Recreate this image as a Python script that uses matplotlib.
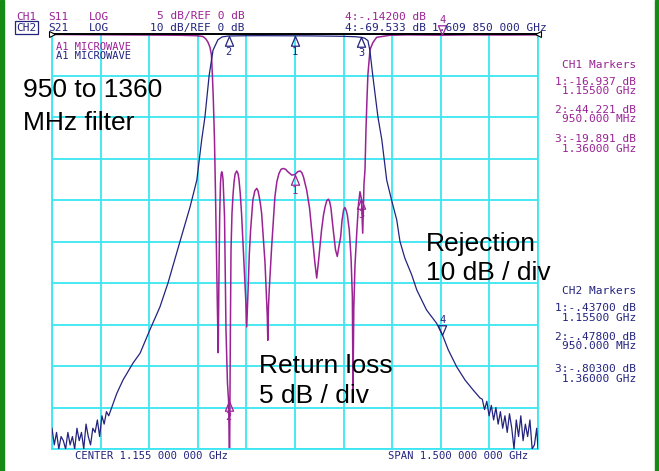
import numpy as np
import matplotlib
matplotlib.use("Agg")
import matplotlib.pyplot as plt
from matplotlib.path import Path
from matplotlib.patches import Rectangle

W, H = 659, 471

# ---- CH2 : S21 trace (MHz, dB) ----
s21_f = [405, 412, 419, 426, 433, 440, 447, 454, 461, 468, 475, 482, 489, 496, 503, 510,
         517, 524, 531, 538, 545, 552, 559, 566, 573, 580, 587,
         605, 624, 655, 677, 707, 738, 763, 800, 831, 852, 867, 877, 890, 902, 917, 930,
         950, 975, 1000, 1050, 1100, 1155, 1200, 1250, 1300, 1340, 1360, 1370, 1380, 1386,
         1395, 1411, 1423, 1438, 1453, 1469, 1479, 1494, 1515, 1531, 1561, 1592, 1610, 1628,
         1654, 1680, 1705, 1726,
         1733, 1740, 1747, 1754, 1761, 1768, 1775, 1782, 1789, 1796, 1803, 1810, 1817, 1824,
         1831, 1838, 1845, 1852, 1859, 1866, 1873, 1880, 1887, 1894, 1901, 1905]
s21_db = [-95, -99, -96, -100, -97, -98, -100, -96, -99, -97, -100, -95, -98, -96, -100, -94,
          -97, -99, -95, -96, -93, -97, -92, -94, -91, -92, -90.5,
          -86.6, -83.4, -79.3, -76.9, -71.3, -65.8, -60, -50, -41.7, -35.2, -25.5, -20, -10, -3.9, -1.4, -0.7,
          -0.478, -0.45, -0.42, -0.40, -0.42, -0.437, -0.45, -0.5, -0.55, -0.65, -0.803, -1.0, -1.6, -3.9,
          -10, -20, -25.5, -35.2, -40, -44.8, -50, -54, -58, -61.7, -66.5, -69.7, -72.5, -76.1,
          -80.2, -83.4, -85.8, -87.7,
          -88, -90.5, -88.5, -92, -89.5, -93, -90, -94, -91, -95, -92, -96, -91.5, -95,
          -100, -93, -97, -92, -98, -94, -97, -93, -100, -99, -95, -100]

# ---- CH1 : S11 trace (MHz, dB) ----
s11_f = [405, 500, 600, 700, 800, 850, 871, 880, 886.5, 892.6, 897, 900, 903, 906.5, 909.5,
         912.5, 915.5, 918, 920, 922.5, 925, 927, 929, 931, 933, 937.5, 942, 946.5, 950, 953, 955.5,
         957.5, 960.5, 964, 967, 970, 975, 979, 982, 986, 990, 997.5, 1003.5, 1006, 1010, 1014,
         1018, 1025, 1031, 1037, 1041, 1044, 1048,
         1052, 1062.5, 1069.5, 1071, 1073, 1075.5, 1083, 1093, 1099, 1105.5, 1112, 1119, 1126,
         1133, 1145, 1155, 1163, 1170.5, 1176, 1181, 1191, 1200, 1206.5, 1216.5, 1222, 1227,
         1237, 1243, 1248, 1253, 1258, 1262, 1266, 1273,
         1280, 1285.5, 1291, 1296, 1300, 1305, 1309, 1312.5, 1316.5, 1322.5, 1328, 1332, 1334,
         1336.5, 1340, 1345.5, 1351, 1355.5, 1360, 1364, 1368, 1371, 1374, 1377, 1380, 1386.5,
         1391.5, 1396, 1407, 1448, 1500, 1609.85, 1700, 1800, 1905]
s11_db = [-0.05, -0.08, -0.1, -0.12, -0.15, -0.2, -0.3, -0.6, -1.0, -1.6, -2.5, -4.9, -8, -12.8, -19,
          -26, -33, -38.4, -30, -22, -18, -16.9, -16.6, -16.9, -17.6, -22, -35.7, -42, -44.221, -52, -36,
          -26, -21.6, -19.2, -17.8, -16.9, -16.5, -16.8, -17.5, -19.2, -21.6, -27.6, -32.4, -35.3, -31, -26.5,
          -23.6, -20, -18.9, -18.6, -18.9, -19.5, -20.4,
          -21.6, -27.6, -34, -36.9, -33, -30.8, -25.6, -19.6, -17.8, -16.8, -16.3, -16.2, -16.3,
          -16.6, -17.0, -16.937, -16.6, -16.5, -16.7, -17.2, -18.8, -21, -23.6, -27.6, -29.4, -27.6,
          -23.6, -21.8, -20.8, -20.1, -19.9, -20.2, -21, -23.6,
          -26, -26.8, -25.5, -24.4, -22.5, -21.2, -20.9, -21.2, -21.8, -23.6, -27, -31.6, -42.9,
          -33, -28, -24, -20.5, -19, -19.891, -24, -18, -16.4, -11.6, -8, -4.9, -1.9,
          -1.4, -1.0, -0.4, -0.15, -0.1, -0.142, -0.1, -0.12, -0.1]

# markers
mk_num = ["1", "2", "3", "4"]
mk_f = [1155, 950, 1360, 1609.85]
mk_ch1 = ["-16.937 dB", "-44.221 dB", "-19.891 dB", "-.14200 dB"]
mk_ch2 = ["-.43700 dB", "-.47800 dB", "-.80300 dB", "-69.533 dB"]
mk_ftxt = ["1.15500 GHz", "950.000 MHz", "1.36000 GHz"]

center_mhz = 1155
span_mhz = 1500

purple = "#9a2295"
navy = "#23237f"
cyan = "#3ce6f2"
mono = "DejaVu Sans Mono"

fig = plt.figure(figsize=(W / 100, H / 100), dpi=100)
fig.patch.set_facecolor("white")


def ft(x, y, s, **kw):
    kw.setdefault("family", mono)
    kw.setdefault("fontsize", 8)
    kw.setdefault("va", "center")
    return fig.text(x / W, 1 - y / H, s, **kw)


ax1 = fig.add_axes([52 / W, 1 - 449 / H, 486 / W, 415 / H])
ax1.set_xlim(center_mhz - span_mhz / 2, center_mhz + span_mhz / 2)
ax1.set_ylim(-50, 0)
ax1.set_xticks(np.linspace(center_mhz - span_mhz / 2, center_mhz + span_mhz / 2, 11))
ax1.set_yticks(np.linspace(-50, 0, 11))
ax1.grid(color=cyan, lw=1.3)
ax1.tick_params(length=0, labelbottom=False, labelleft=False)
for s in ax1.spines.values():
    s.set_color(cyan)
    s.set_linewidth(1.3)
ax1.spines["top"].set_color("black")
ax1.spines["top"].set_linewidth(1.4)
ax1.spines["top"].set_zorder(5)

ax2 = ax1.twinx()
ax2.set_ylim(-100, 0)
ax2.axis("off")

ax1.plot(s11_f, s11_db, color=purple, lw=1.1)
ax2.plot(s21_f, s21_db, color=navy, lw=0.9)

# reference pointers at 0 dB
ax1.plot([center_mhz - span_mhz / 2], [0], marker=">", ms=5, mfc="white", mec="black",
         mew=0.8, clip_on=False, zorder=6)
ax1.plot([center_mhz + span_mhz / 2], [0], marker="<", ms=5, mfc="white", mec="black",
         mew=0.8, clip_on=False, zorder=6)

up = Path([(0, 0), (-0.42, -1), (0.42, -1), (0, 0)], closed=True)
down = Path([(0, 0), (-0.42, 1), (0.42, 1), (0, 0)], closed=True)

for ax, tf, tdb, col in [(ax1, s11_f, s11_db, purple), (ax2, s21_f, s21_db, navy)]:
    for i, f in enumerate(mk_f):
        v = np.interp(f, tf, tdb)
        if mk_num[i] == "4":
            ax.plot([f], [v], marker=down, ms=14, mfc="none", mec=col, mew=0.9, clip_on=False, zorder=6)
            ax.annotate(mk_num[i], (f, v), xytext=(0, 11), textcoords="offset points",
                        ha="center", va="center", fontsize=7.5, family=mono, color=col,
                        annotation_clip=False)
        else:
            ax.plot([f], [v], marker=up, ms=14, mfc="none", mec=col, mew=0.9, clip_on=False, zorder=6)
            ax.annotate(mk_num[i], (f, v), xytext=(0, -11.5), textcoords="offset points",
                        ha="center", va="center", fontsize=7.5, family=mono, color=col,
                        annotation_clip=False)

# header
ft(16.7, 16.5, "CH1", color=purple)
ft(48.3, 16.5, "S11", color=purple)
ft(89.3, 16.5, "LOG", color=purple)
ft(245, 16.5, "5 dB/REF 0 dB", color=purple, ha="right")
ft(16.7, 27.8, "CH2", color=navy,
   bbox=dict(boxstyle="square,pad=0.12", fc="none", ec=navy, lw=0.9))
ft(48.3, 27.8, "S21", color=navy)
ft(89.3, 27.8, "LOG", color=navy)
ft(245, 27.8, "10 dB/REF 0 dB", color=navy, ha="right")
ft(345, 16.5, "4:" + mk_ch1[3], color=purple)
ft(345, 27.8, "4:" + mk_ch2[3], color=navy)
ft(431.7, 27.8, "1.609 850 000 GHz", color=navy)

ft(56, 46.8, "A1 MICROWAVE", color=purple, fontsize=7.5)
ft(56, 56, "A1 MICROWAVE", color=navy, fontsize=7.5)

ft(75, 456, "CENTER 1.155 000 000 GHz", color=navy, fontsize=7.6)
ft(387.7, 456, "SPAN 1.500 000 000 GHz", color=navy, fontsize=7.6)

# marker tables
ft(636, 65, "CH1 Markers", color=purple, ha="right")
ft(636, 290.7, "CH2 Markers", color=navy, ha="right")
rows1 = [81.7, 110, 139.3]
rows2 = [308.3, 336.7, 369.3]
for i in range(3):
    ft(636, rows1[i], mk_num[i] + ":" + mk_ch1[i], color=purple, ha="right")
    ft(636, rows1[i] + 9.5, mk_ftxt[i], color=purple, ha="right")
    ft(636, rows2[i], mk_num[i] + ":" + mk_ch2[i], color=navy, ha="right")
    ft(636, rows2[i] + 9.5, mk_ftxt[i], color=navy, ha="right")

# annotations
big = dict(family="Liberation Sans", fontsize=19, va="baseline", color="black")
ft(23, 97.3, "950 to 1360", **big)
ft(23, 130, "MHz filter", **big)
ft(426, 250.7, "Rejection", **big)
ft(426, 280, "10 dB / div", **big)
ft(259, 373.3, "Return loss", **big)
ft(259, 402.7, "5 dB / div", **big)

# green frame bars
fig.patches.append(Rectangle((0, 0), 4 / W, 1, transform=fig.transFigure, color="#158a15"))
fig.patches.append(Rectangle((654.5 / W, 0), 4.5 / W, 1, transform=fig.transFigure, color="#158a15"))

fig.savefig("out.png", dpi=100)
